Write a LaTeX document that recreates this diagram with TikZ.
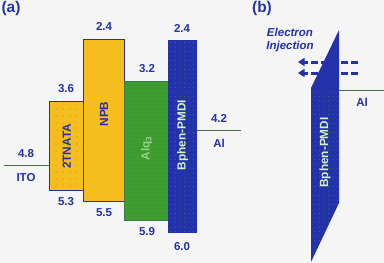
\documentclass[tikz,border=0pt]{standalone}
\usepackage{fontspec}
\setmainfont{Liberation Sans}
\usetikzlibrary{patterns.meta,arrows.meta}
\definecolor{bg}{RGB}{245,245,245}
\definecolor{dblue}{RGB}{35,50,170}
\definecolor{lyellow}{RGB}{245,190,30}
\definecolor{lgreen}{RGB}{60,155,45}
\definecolor{linec}{RGB}{70,110,70}
\definecolor{paletxt}{RGB}{215,240,200}
\definecolor{alqtxt}{RGB}{150,210,140}
\tikzset{
  lbl/.style={font=\fontsize{11.5}{13}\selectfont\bfseries, text=dblue, inner sep=0pt},
  panel/.style={font=\fontsize{15.5}{17}\selectfont\bfseries, text=dblue, inner sep=0pt},
  inj/.style={font=\fontsize{11.5}{13}\selectfont\bfseries\itshape, text=dblue, inner sep=0pt},
  layer/.style={anchor=north west, inner sep=0pt, draw=dblue, line width=0.7pt},
  rtxt/.style={rotate=90, font=\fontsize{11.8}{13}\selectfont\bfseries, inner sep=0pt},
  elec/.style={draw=linec, line width=0.8pt},
  inarrow/.style={draw=dblue, line width=3pt, dash pattern=on 7pt off 3pt, -{Triangle[length=6.5pt,width=8pt]}}
}
\begin{document}
\begin{tikzpicture}[x=1pt,y=-1pt]
\useasboundingbox[fill=bg] (0,0) rectangle (384,263);
% layers of (a)
\node[layer, fill=lyellow, minimum width=34pt, minimum height=89pt,
  postaction={pattern={Dots[distance=7pt,radius=0.45pt]}, pattern color=dblue}] (tnata) at (49.3,101) {};
\node[layer, fill=lyellow, minimum width=41.3pt, minimum height=161.7pt] (npb) at (83,39) {};
\node[layer, fill=lgreen, draw=lgreen!70!dblue, minimum width=44pt, minimum height=139pt,
  postaction={pattern={Dots[distance=4pt,radius=0.45pt]}, pattern color=lgreen!60!white}] (alq) at (124.3,81) {};
\node[layer, fill=dblue, draw=dblue, minimum width=27.7pt, minimum height=192.3pt,
  postaction={pattern={Dots[distance=4.5pt,radius=0.45pt]}, pattern color=lgreen}] (bphen) at (168.3,40) {};
% layer names
\node[rtxt, text=dblue] (tnatatxt) at (tnata.center |- 0,146.5) {2TNATA};
\node[rtxt, text=dblue] (npbtxt) at (npb.center |- 0,114) {NPB};
\node[rtxt, text=alqtxt] (alqtxt) at (alq.center |- 0,148) {Alq\textsubscript{3}};
\node[rtxt, text=paletxt] (bphentxt) at (bphen.center |- 0,135) {Bphen-PMDI};
% electrodes of (a)
\coordinate (itoend) at (4,165);
\draw[elec] (itoend) -- (itoend -| tnata.west);
\coordinate (alend) at (241,130);
\draw[elec] (alend -| bphen.east) -- (alend);
% energy labels
\node[lbl] (l48) at (26,154) {4.8};
\node[lbl] (lito) at (26,178) {ITO};
\node[lbl] (l36) at (66,89) {3.6};
\node[lbl] (l53) at (66,202) {5.3};
\node[lbl] (l24a) at (104,26) {2.4};
\node[lbl] (l55) at (104,213) {5.5};
\node[lbl] (l32) at (147,69) {3.2};
\node[lbl] (l59) at (147,232) {5.9};
\node[lbl] (l24b) at (182,28) {2.4};
\node[lbl] (l60) at (182,247) {6.0};
\node[lbl] (l42) at (219,118) {4.2};
\node[lbl] (lal) at (219,143) {Al};
% panel labels
\node[panel] (pa) at (11,8) {(a)};
\node[panel] (pb) at (262,8) {(b)};
% panel (b)
\node[inj] (elec) at (290,32) {Electron};
\node[inj] (injc) at (290,47) {Injection};
\coordinate (a1s) at (358,62);
\coordinate (a1e) at (298,62);
\coordinate (a2s) at (358,73);
\coordinate (a2e) at (298,73);
\draw[inarrow] (a1s) -- (a1e);
\draw[inarrow] (a2s) -- (a2e);
\coordinate (p1) at (311,88);
\coordinate (p2) at (339,30);
\coordinate (p3) at (339,203);
\coordinate (p4) at (311,262);
\fill[dblue] (p1) -- (p2) -- (p3) -- (p4) -- cycle;
\path[pattern={Dots[distance=4.5pt,radius=0.45pt]}, pattern color=lgreen] (p1) -- (339,88) -- (p3) -- (p4) -- cycle;
\node[rtxt, text=paletxt] (bphentxtb) at (325,152.5) {Bphen-PMDI};
\coordinate (albend) at (384,90);
\draw[elec] (albend -| p2) -- (albend);
\node[lbl] (lalb) at (362,102) {Al};
\end{tikzpicture}
\end{document}
